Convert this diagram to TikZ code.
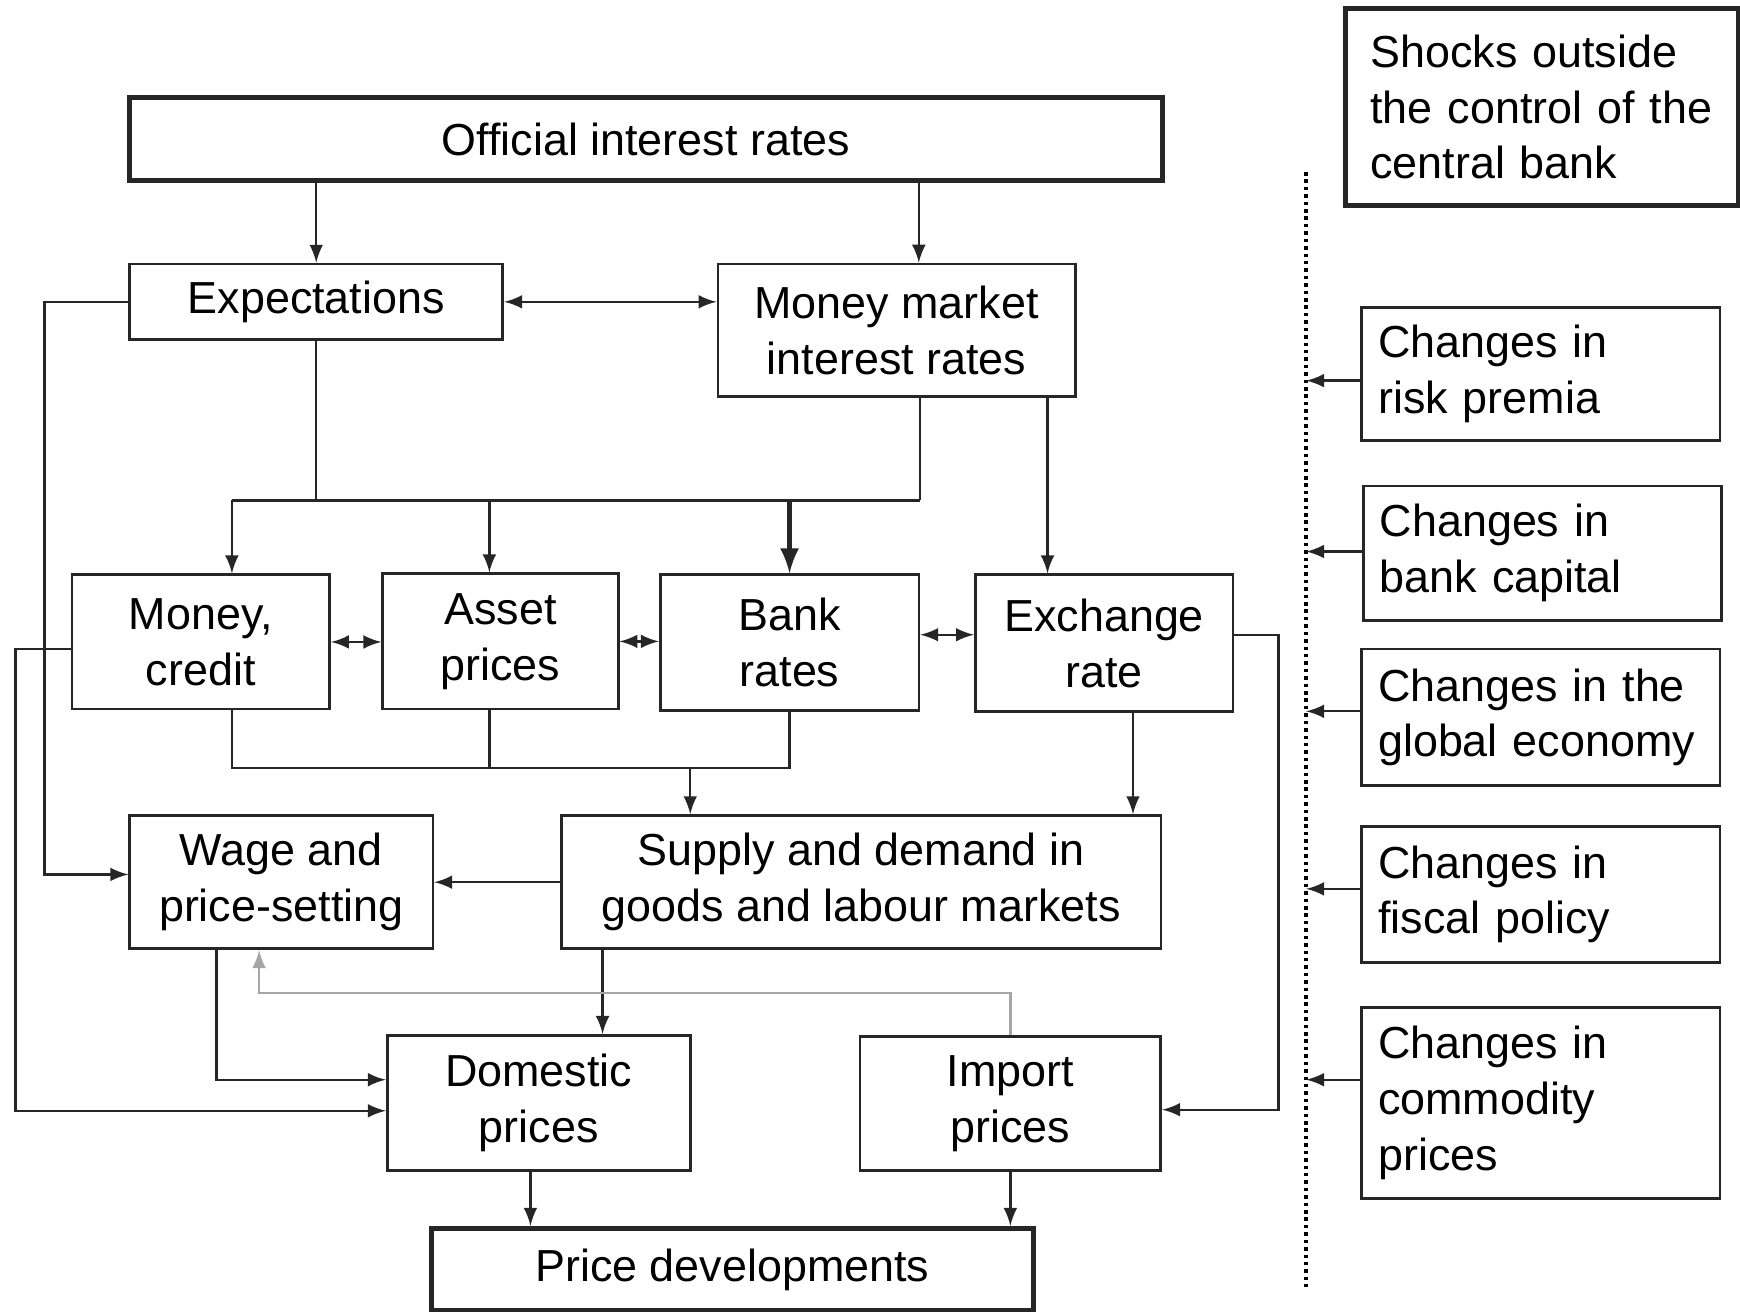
\documentclass[tikz,border=0pt]{standalone}
\usepackage{fontspec}
\setmainfont{Liberation Sans}
\usetikzlibrary{calc}

\begin{document}
\begin{tikzpicture}[x=0.01cm, y=-0.01cm, >=latex,
    box/.style={draw=black!85, line width=0.7pt, align=center, inner sep=0pt,
        font={\fontsize{11.5}{14.3}\selectfont}},
    thickbox/.style={box, line width=1.3pt},
    shockbox/.style={box, align=left, text width=2.93cm, inner xsep=0.15cm},
    link/.style={black!85, line width=0.6pt}]

    \useasboundingbox (0,0) rectangle (1568,1182);

    % transmission boxes
    \node[thickbox, minimum width=9.3cm, minimum height=0.75cm] (official) at (582,125.5) {Official interest rates};
    \node[box, minimum width=3.36cm, minimum height=0.68cm] (expect) at (285,272) {Expectations};
    \node[box, minimum width=3.22cm, minimum height=1.19cm] (mmrates) at (808,297.5) {Money market\\interest rates};
    \node[box, minimum width=2.32cm, minimum height=1.21cm] (credit) at (181,578.5) {Money,\\credit};
    \node[box, minimum width=2.12cm, minimum height=1.22cm] (asset) at (451,578) {Asset\\prices};
    \node[box, minimum width=2.33cm, minimum height=1.22cm] (bank) at (711.5,579) {Bank\\rates};
    \node[box, minimum width=2.32cm, minimum height=1.23cm] (exch) at (995,579.5) {Exchange\\rate};
    \node[box, minimum width=2.73cm, minimum height=1.2cm] (wage) at (253.5,795) {Wage and\\price-setting};
    \node[box, minimum width=5.4cm, minimum height=1.2cm] (supply) at (776,795) {Supply and demand in\\goods and labour markets};
    \node[box, minimum width=2.73cm, minimum height=1.22cm] (domestic) at (485.5,994) {Domestic\\prices};
    \node[box, minimum width=2.71cm, minimum height=1.21cm] (import) at (910.5,994.5) {Import\\prices};
    \node[thickbox, minimum width=5.42cm, minimum height=0.74cm] (pricedev) at (660,1144) {Price developments};

    % shock boxes
    \node[thickbox, align=left, text width=3.1cm, inner xsep=0.22cm, minimum height=1.77cm] (shocks) at (1390,96.5) {Shocks outside\\the control of the\\central bank};
    \node[shockbox, minimum height=1.2cm] (risk) at (1388.5,337) {Changes in\\risk premia};
    \node[shockbox, minimum height=1.21cm] (bankcap) at (1390,498.5) {Changes in\\bank capital};
    \node[shockbox, minimum height=1.23cm] (global) at (1388.5,646.5) {Changes in the\\global economy};
    \node[shockbox, minimum height=1.22cm] (fiscal) at (1388.5,806) {Changes in\\fiscal policy};
    \node[shockbox, minimum height=1.72cm] (commodity) at (1388.5,994) {Changes in\\commodity\\prices};

    % routing points
    \coordinate (ubus) at (0,451);
    \coordinate (lbus) at (0,692);
    \coordinate (ibus) at (0,895);
    \coordinate (lx1) at (40,0);
    \coordinate (lx2) at (14,0);
    \coordinate (rx) at (1152,0);
    \coordinate (oc) at ($(mmrates.north)+(20,0)$);
    \coordinate (mc) at ($(mmrates.south)+(21,0)$);
    \coordinate (xc) at ($(mmrates.south)+(136,0)$);
    \coordinate (cc) at ($(credit.north)+(28,0)$);
    \coordinate (ac) at ($(asset.north)+(-10,0)$);
    \coordinate (bc) at (bank.north);
    \coordinate (sc) at ($(supply.north)+(-154,0)$);
    \coordinate (ec) at ($(supply.north)+(245,0)$);
    \coordinate (dc) at ($(supply.south)+(-233,0)$);
    \coordinate (wc) at ($(wage.south)+(-20,0)$);
    \coordinate (wd) at ($(wage.south)+(-58.5,0)$);
    \coordinate (pc) at ($(domestic.south)+(-7.5,0)$);
    \coordinate (be) at ($(bank.east)+(0,-7)$);
    \coordinate (cw) at ($(credit.west)+(0,6.5)$);
    \coordinate (xe) at ($(exch.east)+(0,-7.5)$);

    % upper part
    \draw[link, ->] (official.south -| expect.north) -- (expect.north);
    \draw[link, ->] (official.south -| oc) -- (oc);
    \draw[link, <->] (expect.east) -- (expect.east -| mmrates.west);
    \draw[link] (expect.south) -- (expect.south |- ubus);
    \draw[link] (mc) -- (mc |- ubus);
    \draw[link] (cc |- ubus) -- (mc |- ubus);
    \draw[link, ->] (cc |- ubus) -- (cc);
    \draw[link, ->] (ac |- ubus) -- (ac);
    \draw[link, ->, line width=1.2pt] (bc |- ubus) -- (bc);
    \draw[link, ->] (xc) -- (xc |- exch.north);

    % middle row
    \draw[link, <->] (credit.east) -- (credit.east -| asset.west);
    \draw[link, <->] (asset.east) -- (asset.east -| bank.west);
    \draw[link, <->] (be) -- (be -| exch.west);
    \draw[link] (cc |- credit.south) |- (bc |- lbus) -- (bc |- bank.south);
    \draw[link] (ac |- asset.south) -- (ac |- lbus);
    \draw[link, ->] (sc |- lbus) -- (sc);
    \draw[link, ->] (ec |- exch.south) -- (ec);
    \draw[link, ->] (xe) -- (xe -| rx) |- ($(import.east)+(0,5.5)$);

    % lower part
    \draw[link, ->] (supply.west) -- (supply.west -| wage.east);
    \draw[link, ->] (dc) -- (dc |- domestic.north);
    \draw[link, ->, gray!70] (import.north) -- (import.north |- ibus) -| (wc);
    \draw[link, ->] (wd) |- ($(domestic.west)+(0,-21)$);
    \draw[link, ->] (expect.west) -- (expect.west -| lx1) |- ($(wage.west)+(0,-7)$);
    \draw[link, ->] (cw) -- (cw -| lx2) |- ($(domestic.west)+(0,7)$);
    \draw[link, ->] (pc) -- (pc |- pricedev.north);
    \draw[link, ->] (import.south) -- (import.south |- pricedev.north);

    % shocks line
    \coordinate (dtop) at (1177,155);
    \coordinate (dbot) at (1177,1160);
    \draw[densely dotted, line width=0.9pt] (dtop) -- (dbot);
    \foreach \n/\dy in {risk/6, bankcap/-1.5, global/-5.5, fiscal/-5, commodity/-21}
    {
        \coordinate (s) at ($(\n.west)+(0,\dy)$);
        \draw[link, ->] (s) -- (s -| dtop);
    }
\end{tikzpicture}
\end{document}
